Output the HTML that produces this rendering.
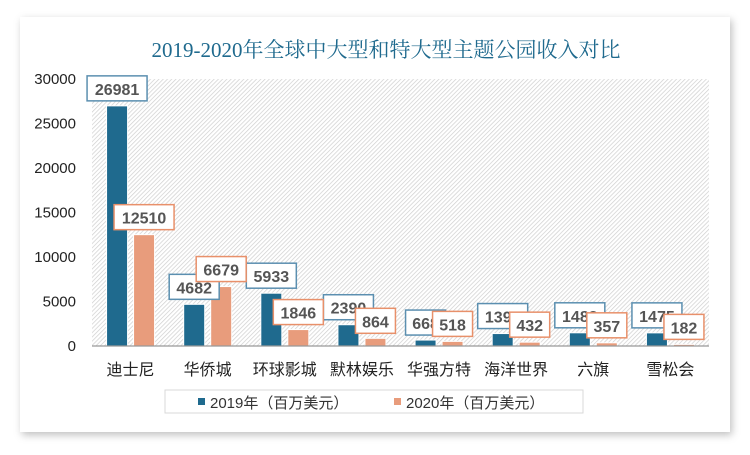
<!DOCTYPE html>
<html><head><meta charset="utf-8"><style>
body{margin:0;width:750px;height:450px;background:#fff;overflow:hidden;font-family:"Liberation Sans","Noto Sans CJK SC",sans-serif}
</style></head><body>
<svg id="c" width="750" height="450" xmlns="http://www.w3.org/2000/svg">
<defs>
<pattern id="hatch" width="3" height="3" patternUnits="userSpaceOnUse" patternTransform="rotate(45)">
<rect width="3" height="3" fill="#fff"/><line x1="0" y1="0" x2="0" y2="3" stroke="#cfcfcf" stroke-width="1.4"/>
</pattern>
<filter id="sh" x="-5%" y="-5%" width="110%" height="115%"><feDropShadow dx="2" dy="3" stdDeviation="4" flood-color="#000" flood-opacity="0.25"/></filter>
</defs>
<rect x="20" y="17" width="710" height="415" fill="#fff" filter="url(#sh)"/>
<text x="386" y="57" text-anchor="middle" font-size="21" fill="#1f6a8e" font-family="Liberation Serif,Noto Serif CJK SC,serif">2019-2020年全球中大型和特大型主题公园收入对比</text>
<rect x="92" y="79" width="617" height="267" fill="url(#hatch)"/>
<g id="yaxis"></g>
<g id="bars"></g>
<line x1="92" y1="346" x2="709" y2="346" stroke="#999" stroke-width="1.2"/>
<g id="xlabels"></g>
<rect x="165" y="390" width="418" height="23" fill="#fff" stroke="#d9d9d9"/>
<rect x="198" y="398" width="7" height="7" fill="#1f6a8e"/>
<text x="210" y="408" font-size="15" fill="#333">2019年（百万美元）</text>
<rect x="394" y="398" width="7" height="7" fill="#e89c7c"/>
<text x="406" y="408" font-size="15" fill="#333">2020年（百万美元）</text>
<g id="labels"></g>
</svg>
<script>
const categories=["迪士尼","华侨城","环球影城","默林娱乐","华强方特","海洋世界","六旗","雪松会"];
const values2019=[26981,4682,5933,2390,668,1398,1483,1475];
const values2020=[12510,6679,1846,864,518,432,357,182];
const yTicks=[0,5000,10000,15000,20000,25000,30000];
const NS="http://www.w3.org/2000/svg";
const x0=92,x1=709,yTop=79,yBot=346,yMax=30000;
const y=v=>yBot-v/yMax*(yBot-yTop);
const bw=(x1-x0)/categories.length;
function el(t,a,p){const e=document.createElementNS(NS,t);for(const k in a)e.setAttribute(k,a[k]);p.appendChild(e);return e;}
const ya=document.getElementById('yaxis'),bg=document.getElementById('bars'),xl=document.getElementById('xlabels'),lg=document.getElementById('labels');
yTicks.forEach(t=>{const e=el('text',{x:76,y:y(t)+5,'text-anchor':'end','font-size':15,fill:'#222'},ya);e.textContent=t;

});
function label(cx,v,color,p){const yy=y(v)-5;const w=String(v).length*10+10;
const g=el('g',{},p);


el('rect',{x:cx-w/2,y:yy-25,width:w,height:25,fill:'#fff',stroke:color,'stroke-width':1.5},g);
const t=el('text',{x:cx,y:yy-6,'text-anchor':'middle','font-size':16,'font-weight':'bold',fill:'#555'},g);t.textContent=v;}
categories.forEach((c,i)=>{const cx=x0+bw*(i+0.5);
const b1=el('rect',{x:cx-24,y:y(values2019[i]),width:21,height:yBot-y(values2019[i]),fill:'#1f6a8e',stroke:'#fff','stroke-width':1},bg);


const b2=el('rect',{x:cx+3,y:y(values2020[i]),width:21,height:yBot-y(values2020[i]),fill:'#e89c7c',stroke:'#fff','stroke-width':1},bg);


const t=el('text',{x:cx,y:375,'text-anchor':'middle','font-size':16,fill:'#222'},xl);t.textContent=c;


});
categories.forEach((c,i)=>{const cx=x0+bw*(i+0.5);label(cx-13.5,values2019[i],'#5b8fb0',lg);});
categories.forEach((c,i)=>{const cx=x0+bw*(i+0.5);label(cx+13.5,values2020[i],'#e8906a',lg);});
</script>
</body></html>
